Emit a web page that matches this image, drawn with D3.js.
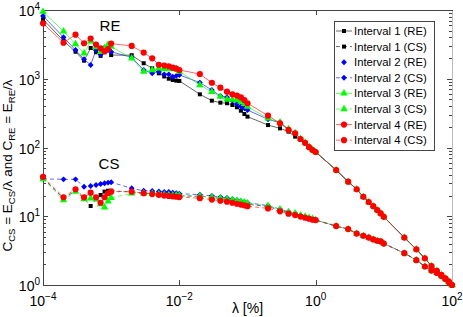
<!DOCTYPE html>
<html>
<head>
<meta charset="utf-8">
<script src="https://cdn.jsdelivr.net/npm/d3@7"></script>
<style>
  body { margin: 0; background: #fff; }
  svg { display: block; font-family: "Liberation Sans", Arial, Helvetica, sans-serif; }
</style>
</head>
<body>
<div id="plot"></div>
<script>
const margin = { top: 10, right: 11, bottom: 32, left: 43 },
      width = 463 - margin.left - margin.right,
      height = 317 - margin.top - margin.bottom;

// lambda grid [%]
const lambda = [
  1e-4, 2e-4, 3e-4, 4e-4, 5e-4, 6e-4, 7e-4, 8e-4, 9e-4,
  1e-3, 2e-3, 3e-3, 4e-3, 5e-3, 6e-3, 7e-3, 8e-3, 9e-3,
  1e-2, 2e-2, 3e-2, 4e-2, 5e-2, 6e-2, 7e-2, 8e-2, 9e-2,
  0.1, 0.2, 0.3, 0.4, 0.5, 0.6, 0.7, 0.8, 0.9,
  1, 2, 3, 4, 5, 6, 7, 8, 9,
  10, 20, 30, 40, 50, 60, 70, 80, 90,
  100
];

// C_RE, lambda 1e-4 .. 0.9
const re1Head = [7300, 3570, 2470, 1830, 2800, 2430, 2150, 2550, 2850, 2210,
  2200, 1680, 1420, 1200, 1080, 1000, 960, 940,
  930, 594, 480, 449, 440, 415, 385, 343, 307,
  281, 212, 190, 170, 144, 129, 115, 101, 92];
const re2Head = [8200, 4010, 2620, 1920, 1585, 2620, 2250, 2850, 2620, 2470,
  2050, 1340, 1200, 1270, 1160, 1160, 1070, 1100,
  1135, 880, 686, 561, 540, 480, 430, 395, 370,
  351, 257, 229, 185, 160, 133, 117, 101, 92];
const re3Head = [9450, 4900, 3200, 2340, 3500, 2880, 2470, 2770, 3150, 2930,
  1980, 1270, 1340, 1420, 1380, 1400, 1380, 1390,
  1270, 811, 646, 548, 502, 496, 490, 464, 430,
  393, 266, 232, 185, 162, 134, 118, 102, 93];
const re4Head = [6400, 3340, 4380, 3280, 3850, 3150, 2770, 2500, 2700, 3250,
  3000, 2400, 1980, 1600, 1560, 1520, 1450, 1400,
  1340, 1170, 875, 741, 648, 594, 567, 537, 491,
  440, 290, 225, 180, 161, 133, 117, 101, 92];
// C_RE, lambda 1 .. 100 (all intervals overlap)
const reTail = [86, 47, 31.8, 24.7, 19.2, 16.1, 14.0, 12.3, 11.0,
  9.8, 4.9, 3.3, 2.44, 1.89, 1.61, 1.40, 1.25, 1.12, 1.0];

// C_CS, lambda 1e-4 .. 0.9
const cs1Head = [36, 18.2, 23.5, 18.2, 14.1, 17.7, 20.4, 22.8, 23.5, 23.5,
  22.5, 21.8, 21.3, 21.0, 20.7, 20.4, 20.2, 20.0,
  19.8, 19.5, 18.8, 18.0, 17.5, 16.8, 16.3, 15.8, 15.4,
  15.0, 13.8, 12.3, 11.3, 10.8, 10.1, 9.7, 9.4, 9.1];
const cs2Head = [35, 34.4, 34.4, 26.9, 27.5, 28.5, 29.5, 30.2, 30.8, 31.2,
  25.5, 23.5, 23.3, 23.0, 22.5, 22.5, 22.0, 21.7,
  21.3, 20.6, 19.8, 19.0, 18.4, 17.7, 17.1, 16.6, 16.2,
  15.7, 14.3, 12.7, 11.6, 11.0, 10.3, 9.9, 9.5, 9.2];
const cs3Head = [34.8, 17.2, 22.8, 17.7, 18.2, 17.7, 15.0, 13.5, 16.5, 18.5,
  21.5, 21.5, 21.3, 21.0, 20.7, 20.4, 20.2, 20.2,
  20.0, 19.6, 19.0, 18.3, 17.8, 17.3, 16.8, 16.3, 15.9,
  15.4, 14.2, 12.6, 11.5, 11.0, 10.3, 9.9, 9.5, 9.2];
const cs4Head = [37.5, 18.9, 24.7, 18.9, 22.0, 18.9, 15.7, 18.9, 21.6, 22.8,
  22.8, 21.6, 21.0, 20.5, 20.0, 19.7, 19.5, 19.2,
  19.0, 18.3, 17.5, 16.8, 16.3, 15.7, 15.2, 14.8, 14.4,
  14.0, 13.0, 11.8, 10.9, 10.4, 9.9, 9.5, 9.2, 8.9];
// C_CS, lambda 1 .. 100
const csTail = [8.8, 7.2, 6.5, 5.6, 5.2, 4.9, 4.6, 4.4, 4.3,
  4.0, 2.9, 2.3, 1.86, 1.62, 1.5, 1.35, 1.22, 1.1, 1.0];

const seriesNames = ["Interval 1 (RE)", "Interval 1 (CS)", "Interval 2 (RE)", "Interval 2 (CS)",
                     "Interval 3 (RE)", "Interval 3 (CS)", "Interval 4 (RE)", "Interval 4 (CS)"];

// axis ticks
const xMajor = [1e-4, 1e-2, 1, 1e2];
const xLabels = ["-4", "-2", "0", "2"];
const yMajor = [1, 10, 100, 1000, 10000];
const yLabels = ["0", "1", "2", "3", "4"];

const colors = ["#000000", "#0000ff", "#00ff00", "#ff0000"];
const shapes = [
  { type: d3.symbolSquare, size: 16 },
  { type: d3.symbolDiamond2 || d3.symbolDiamond, size: 22 },
  { type: d3.symbolTriangle, size: 24 },
  { type: d3.symbolCircle, size: 30 }
];
const heads = [re1Head, cs1Head, re2Head, cs2Head, re3Head, cs3Head, re4Head, cs4Head];

const series = seriesNames.map((name, i) => {
  const k = Math.floor(i / 2), isCS = i % 2 === 1;
  const vals = heads[i].concat(isCS ? csTail : reTail);
  return {
    name: name,
    color: colors[k],
    shape: shapes[k],
    dashed: isCS,
    legendLine: name !== "Interval 2 (RE)",
    points: vals.map((v, j) => ({ x: lambda[j], y: v }))
  };
});

const svg = d3.select("#plot")
  .append("svg")
    .attr("width", width + margin.left + margin.right)
    .attr("height", height + margin.top + margin.bottom)
  .append("g")
    .attr("transform", `translate(${margin.left},${margin.top})`);

const x = d3.scaleLog().domain([1e-4, 1e2]).range([0, width]);
const y = d3.scaleLog().domain([1, 1e4]).range([height, 0]);
const yMinor = y.ticks().filter(v => !yMajor.includes(v));

// Axes (MATLAB style box with inward ticks)
function styleAxis(g, col) {
  g.selectAll("path.domain").attr("stroke", col || "#444").attr("stroke-width", 1).attr("shape-rendering", "crispEdges");
  g.selectAll(".tick line").attr("stroke", "#444").attr("stroke-width", 1).attr("shape-rendering", "crispEdges");
}
svg.append("g").attr("transform", `translate(0,${height})`)
  .call(d3.axisBottom(x).tickValues(xMajor).tickSize(-5).tickSizeOuter(0).tickFormat(""))
  .call(styleAxis);
svg.append("g")
  .call(d3.axisTop(x).tickValues(xMajor).tickSize(-5).tickSizeOuter(0).tickFormat(""))
  .call(styleAxis);
svg.append("g")
  .call(d3.axisLeft(y).tickValues(yMajor).tickSize(-5).tickSizeOuter(0).tickFormat(""))
  .call(styleAxis);
svg.append("g")
  .call(d3.axisLeft(y).tickValues(yMinor).tickSize(-3).tickSizeOuter(0).tickFormat(""))
  .call(styleAxis);
svg.append("g").attr("transform", `translate(${width},0)`)
  .call(d3.axisRight(y).tickValues(yMajor).tickSize(-5).tickSizeOuter(0).tickFormat(""))
  .call(g => styleAxis(g, "#bbb"));
svg.append("g").attr("transform", `translate(${width},0)`)
  .call(d3.axisRight(y).tickValues(yMinor).tickSize(-3).tickSizeOuter(0).tickFormat(""))
  .call(g => styleAxis(g, "#bbb"));

// tick labels 10^n
xMajor.forEach((v, i) => {
  const t = svg.append("text")
    .attr("x", x(v)).attr("y", height + 21)
    .attr("text-anchor", "middle")
    .style("font-size", "14px");
  t.append("tspan").text("10");
  t.append("tspan").attr("dy", -6).style("font-size", "10px").text(xLabels[i].replace("-", "\u2212"));
});
yMajor.forEach((v, i) => {
  const t = svg.append("text")
    .attr("x", -3).attr("y", y(v) + 6)
    .attr("text-anchor", "end")
    .style("font-size", "14px");
  t.append("tspan").text("10");
  t.append("tspan").attr("dy", -6).style("font-size", "10px").text(yLabels[i]);
});

// axis labels
svg.append("text")
  .attr("x", width / 2).attr("y", height + 28)
  .attr("text-anchor", "middle")
  .style("font-size", "14px")
  .text("\u03bb  [%]");

const yl = svg.append("text")
  .attr("transform", `translate(${-margin.left + 15},${height / 2 + 18}) rotate(-90)`)
  .attr("text-anchor", "middle")
  .style("font-size", "13.5px");
const parts = [["C"], ["CS", 1], [" = E"], ["CS", 1], ["/\u03bb   and   C"], ["RE", 1], [" = E"], ["RE", 1], ["/\u03bb"]];
parts.forEach(p => {
  if (p[1]) {
    yl.append("tspan").attr("dy", 3).style("font-size", "9.5px").text(p[0]);
  } else {
    yl.append("tspan").attr("dy", yl.selectAll("tspan").size() ? -3 : 0).text(p[0]);
  }
});

// curve annotations
svg.append("text").attr("x", 110 - margin.left).attr("y", 21).attr("text-anchor", "middle")
  .style("font-size", "15px").text("RE");
svg.append("text").attr("x", 109 - margin.left).attr("y", 159).attr("text-anchor", "middle")
  .style("font-size", "15px").text("CS");

// Lines and markers
const line = d3.line().x(d => x(d.x)).y(d => y(d.y));

series.forEach(s => {
  svg.append("path")
    .datum(s.points)
    .attr("fill", "none")
    .attr("stroke", s.color)
    .attr("stroke-width", 0.6)
    .attr("stroke-dasharray", s.dashed ? "4,3" : null)
    .attr("d", line);
  svg.selectAll(null)
    .data(s.points)
    .join("path")
      .attr("transform", d => `translate(${x(d.x)},${y(d.y)})`)
      .attr("d", d3.symbol().type(s.shape.type).size(s.shape.size))
      .attr("fill", s.color);
});

// Legend
const lg = svg.append("g").attr("transform", `translate(${334 - margin.left},${21 - margin.top})`);
lg.append("rect")
  .attr("width", 100).attr("height", 129)
  .attr("fill", "#fff").attr("stroke", "#444").attr("stroke-width", 1)
  .attr("shape-rendering", "crispEdges");
series.forEach((s, i) => {
  const yy = 10 + i * 15.6;
  if (s.legendLine) {
    lg.append("line")
      .attr("x1", 2).attr("x2", 18).attr("y1", yy).attr("y2", yy)
      .attr("stroke", s.color).attr("stroke-width", 0.6)
      .attr("stroke-dasharray", s.dashed ? "4,3" : null);
  }
  lg.append("path")
    .attr("transform", `translate(10,${yy})`)
    .attr("d", d3.symbol().type(s.shape.type).size(s.shape.size))
    .attr("fill", s.color);
  lg.append("text")
    .attr("x", 20).attr("y", yy + 4)
    .style("font-size", "11.3px")
    .text(s.name);
});
</script>
</body>
</html>
